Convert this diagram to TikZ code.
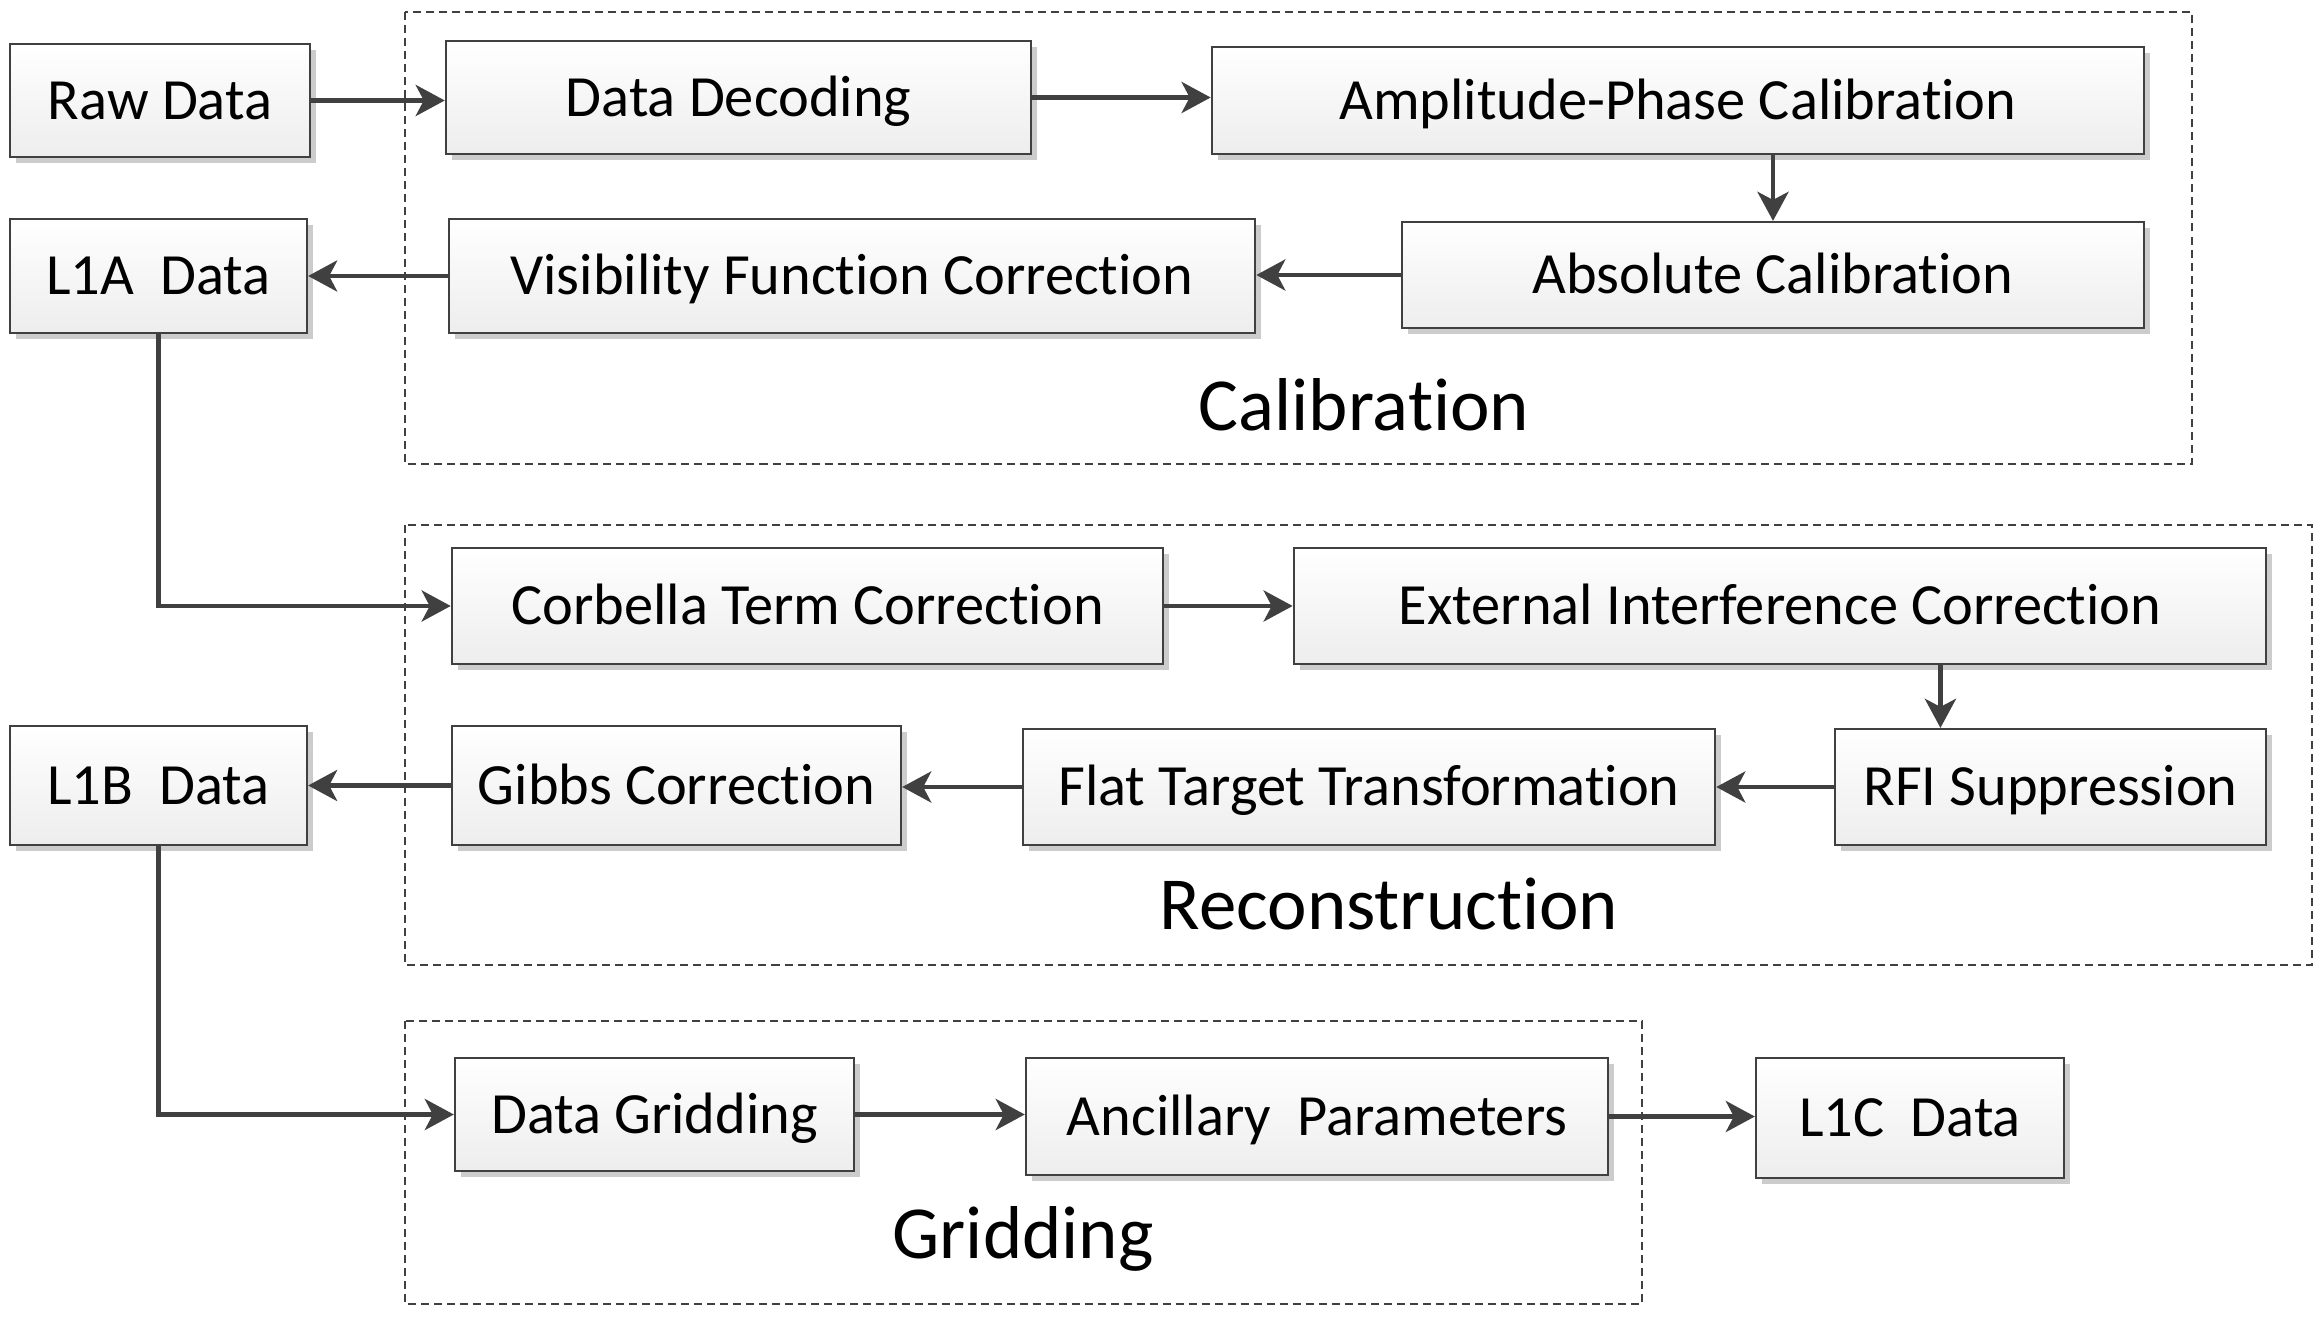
\documentclass[tikz,border=0pt]{standalone}
\usepackage{fontspec}
\setmainfont{Carlito}[Ligatures=NoCommon]
\usepackage{tikz}
\usetikzlibrary{arrows.meta}
\usetikzlibrary{calc}
\usetikzlibrary{shadows}

\definecolor{linegray}{HTML}{404040}
\definecolor{shadowgray}{HTML}{CCCCCC}

\tikzset{
	blk/.style={draw=linegray, line width=0.6pt, top color=white, bottom color=black!7,
		inner sep=0pt, font=\fontsize{16.6}{20}\selectfont, text height=10.7pt, text depth=0pt,
		drop shadow={shadow xshift=0.06cm, shadow yshift=-0.06cm, fill=shadowgray, opacity=1}},
	grp/.style={draw=linegray, line width=0.6pt, dash pattern=on 0.08cm off 0.05cm},
	grplabel/.style={font=\fontsize{21.3}{26}\selectfont, inner sep=0pt},
	flow/.style={draw=linegray, line width=1.35pt, -{Stealth[length=0.29cm, width=0.31cm, inset=0.08cm]}}
}

\begin{document}
\begin{tikzpicture}[x=0.01cm, y=-0.01cm]
	\useasboundingbox (0, 0) rectangle (2324, 1319);

	% dashed groups
	\draw[grp] (405, 12) rectangle (2192, 464);
	\draw[grp] (405, 525) rectangle (2312, 965);
	\draw[grp] (405, 1021) rectangle (1642, 1304);
	\node[grplabel] (calib) at (1364, 405) {Calibration};
	\node[grplabel] (recon) at (1389, 904) {Reconstruction};
	\node[grplabel] (gridd) at (1023, 1239) {Gridding};

	% calibration
	\node[blk, minimum width=3.00cm, minimum height=1.13cm] (raw) at (160, 100.5) {Raw Data};
	\node[blk, minimum width=5.85cm, minimum height=1.13cm] (dec) at (738.5, 97.5) {Data Decoding};
	\node[blk, minimum width=9.32cm, minimum height=1.07cm] (amp) at (1678, 100.5) {Amplitude-Phase Calibration};
	\node[blk, minimum width=2.97cm, minimum height=1.14cm] (l1a) at (158.5, 276) {L1A~~Data};
	\node[blk, minimum width=8.06cm, minimum height=1.14cm] (vis) at (852, 276) {Visibility Function Correction};
	\node[blk, minimum width=7.42cm, minimum height=1.06cm] (abs) at (1773, 275) {Absolute Calibration};

	% reconstruction
	\node[blk, minimum width=7.11cm, minimum height=1.16cm] (cor) at (807.5, 606) {Corbella Term Correction};
	\node[blk, minimum width=9.72cm, minimum height=1.16cm] (ext) at (1780, 606) {External Interference Correction};
	\node[blk, minimum width=2.97cm, minimum height=1.19cm] (l1b) at (158.5, 785.5) {L1B~~Data};
	\node[blk, minimum width=4.49cm, minimum height=1.19cm] (gib) at (676.5, 785.5) {Gibbs Correction};
	\node[blk, minimum width=6.92cm, minimum height=1.16cm] (flat) at (1369, 787) {Flat Target Transformation};
	\node[blk, minimum width=4.31cm, minimum height=1.16cm] (rfi) at (2050.5, 787) {RFI Suppression};

	% gridding
	\node[blk, minimum width=3.99cm, minimum height=1.13cm] (grd) at (654.5, 1114.5) {Data Gridding};
	\node[blk, minimum width=5.82cm, minimum height=1.17cm] (anc) at (1317, 1116.5) {Ancillary~~Parameters};
	\node[blk, minimum width=3.08cm, minimum height=1.20cm] (l1c) at (1910, 1118) {L1C~~Data};

	\coordinate (rfitop) at ($(rfi.north west)!0.246!(rfi.north east)$);

	\draw[flow] (raw.east) -- (raw.east -| dec.west);
	\draw[flow] (dec.east) -- (dec.east -| amp.west);
	\draw[flow] (abs.north |- amp.south) -- (abs.north);
	\draw[flow] (abs.west) -- (abs.west -| vis.east);
	\draw[flow] (vis.west) -- (vis.west -| l1a.east);
	\draw[flow] (l1a.south) |- (cor.west);
	\draw[flow] (cor.east) -- (ext.west);
	\draw[flow] (rfitop |- ext.south) -- (rfitop);
	\draw[flow] (rfi.west) -- (flat.east);
	\draw[flow] (flat.west) -- (flat.west -| gib.east);
	\draw[flow] (gib.west) -- (l1b.east);
	\draw[flow] (l1b.south) |- (grd.west);
	\draw[flow] (grd.east) -- (grd.east -| anc.west);
	\draw[flow] (anc.east) -- (anc.east -| l1c.west);
\end{tikzpicture}
\end{document}
